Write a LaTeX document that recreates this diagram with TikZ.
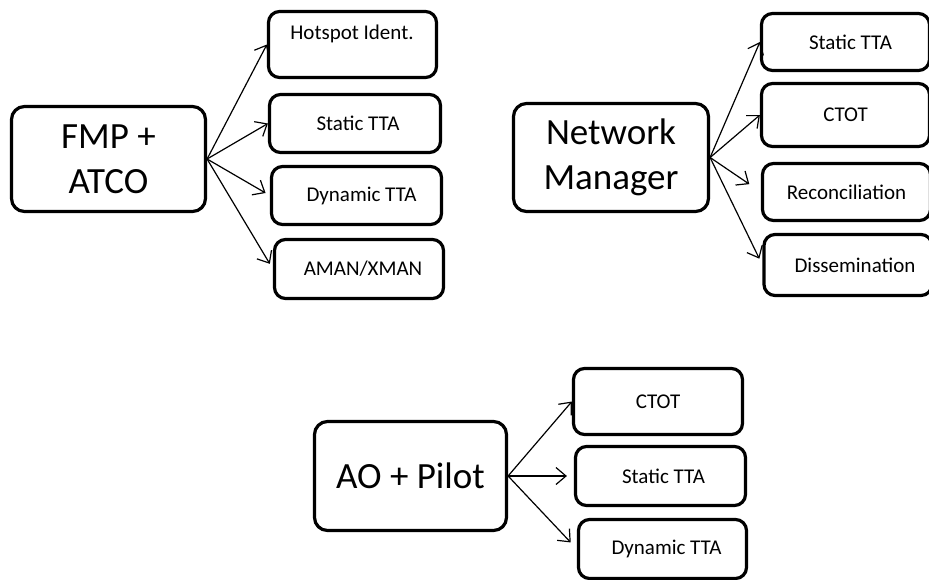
\documentclass[tikz,border=0pt]{standalone}
\usepackage{fontspec}
\setmainfont{Carlito}
\usetikzlibrary{arrows.meta}

\begin{document}
\begin{tikzpicture}[x=1pt,y=-1pt,
	bigbox/.style={draw, line width=3.2pt, rounded corners=13pt, align=center, inner sep=0pt,
		font=\fontsize{37}{45}\selectfont},
	smallbox/.style={draw, line width=3.2pt, rounded corners=11pt, inner sep=0pt,
		minimum width=168pt, minimum height=58pt, font=\fontsize{21}{25}\selectfont},
	link/.style={line width=1.2pt, -{Straight Barb[length=10pt,width=17pt,line width=1.2pt]}}]
	\useasboundingbox (0,0) rectangle (929,579);
	% FMP + ATCO
	\begin{scope}
		\node[bigbox, minimum width=194pt, minimum height=105pt] (fmp) at (108.5,159) {FMP +\\ATCO};
		\node[smallbox, minimum height=66pt] (hot) at (352.5,44.5) {};
		\node[font=\fontsize{21}{25}\selectfont] (hottxt) at (352,34) {Hotspot Ident.};
		\node[smallbox, minimum width=171pt] (fstat) at (355,123.5) {\hspace*{6pt}Static TTA};
		\node[smallbox, minimum width=170pt] (fdyn) at (356.5,195.5) {\hspace*{10pt}Dynamic TTA};
		\node[smallbox, minimum width=169pt, minimum height=59pt] (aman) at (359,269) {\hspace*{8pt}AMAN/XMAN};
		\draw[link] (fmp.east) -- (hot.west);
		\draw[link] (fmp.east) -- (fstat.west);
		\draw[link, shorten >=5pt] (fmp.east) -- (fdyn.west);
		\draw[link, shorten >=6pt] (fmp.east) -- (aman.west);
	\end{scope}
	% Network Manager
	\begin{scope}
		\node[bigbox, minimum width=195pt, minimum height=108pt] (nm) at (611,157.5) {Network\\Manager};
		\node[smallbox, minimum height=57pt] (nstat) at (845.5,42) {\hspace*{10pt}Static TTA};
		\node[smallbox, minimum height=63pt] (nctot) at (845.5,115) {CTOT};
		\node[smallbox, minimum height=57pt] (recon) at (846.5,192) {Reconciliation};
		\node[smallbox, minimum height=61pt] (diss) at (848,265) {\hspace*{14pt}Dissemination};
		\draw[link] (nm.east) -- (nstat.west);
		\draw[link] (nm.east) -- (nctot.west);
		\draw[link, shorten >=14pt] (nm.east) -- (recon.west);
		\draw[link, shorten >=7pt] (nm.east) -- (diss.west);
	\end{scope}
	% AO + Pilot
	\begin{scope}
		\node[bigbox, minimum width=192pt, minimum height=109pt] (ao) at (410.5,476) {AO + Pilot};
		\node[smallbox, minimum width=169pt, minimum height=66pt] (actot) at (658,401.5) {CTOT};
		\node[smallbox, minimum width=170pt, minimum height=59pt] (astat) at (660.5,476) {\hspace*{6pt}Static TTA};
		\node[smallbox, minimum height=59pt] (adyn) at (662.5,549) {\hspace*{8pt}Dynamic TTA};
		\draw[link] (ao.east) -- (actot.west);
		\draw[link, shorten >=7pt] (ao.east) -- (astat.west);
		\draw[link, shorten >=9pt] (ao.east) -- (adyn.west);
	\end{scope}
\end{tikzpicture}
\end{document}
